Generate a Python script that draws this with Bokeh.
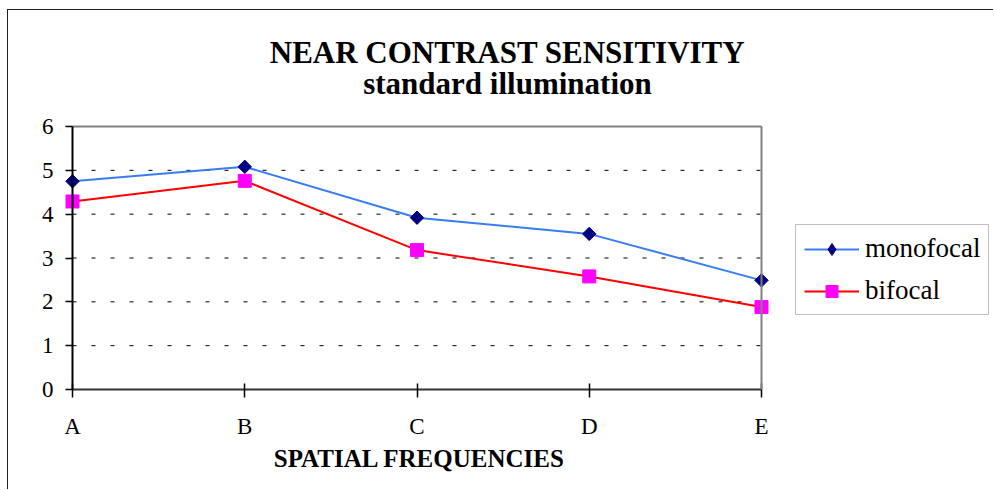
import math
from bokeh.plotting import figure
from bokeh.models import (Range1d, FixedTicker, Legend, LegendItem, Label,
                          LinearAxis)
from bokeh.embed import file_html
from bokeh.resources import INLINE

categories = ["A", "B", "C", "D", "E"]
monofocal = [4.75, 5.08, 3.92, 3.55, 2.49]
bifocal = [4.29, 4.76, 3.18, 2.58, 1.88]
y_ticks = [0, 1, 2, 3, 4, 5, 6]
grid_ticks = [1, 2, 3, 4, 5]
title_lines = ["NEAR CONTRAST SENSITIVITY", "standard illumination"]
x_title = "SPATIAL FREQUENCIES"
series_names = ["monofocal", "bifocal"]

FONT = "Liberation Serif"
xs = list(range(len(categories)))
x_last = len(categories) - 1
y_top = y_ticks[-1]

# geometry (canvas px). The frame covers everything right of the y labels so
# that titles, legend and axis title are not clipped.
W, H = 986, 480
left_px = 56
axis_y_px = 379                 # canvas y of the value-0 line
frame_w, frame_h = W - left_px, H
x_px = 689.0 / x_last           # px per category step
y_px = 263.0 / y_top            # px per y unit
x_pad = 8.0 / x_px
x_end = -x_pad + frame_w / x_px
y_start = -(H - axis_y_px) / y_px
y_end = y_start + frame_h / y_px

p = figure(width=W, height=H, output_backend="svg", toolbar_location=None,
           title=None,
           x_range=Range1d(-x_pad, x_end), y_range=Range1d(y_start, y_end),
           min_border_left=left_px, min_border_right=0, min_border_top=0,
           min_border_bottom=0,
           margin=(9, 0, 0, 7),
           styles={"border-left": "1px solid #222", "border-top": "1px solid #222"})

p.background_fill_color = "white"
p.border_fill_color = "white"
p.outline_line_color = None
p.xgrid.visible = False
p.ygrid.visible = False

# x axis, fixed on the value-0 line
xa = p.xaxis[0]
xa.fixed_location = 0
xa.bounds = (0, x_last)
xa.ticker = FixedTicker(ticks=xs)
xa.major_label_overrides = {i: c for i, c in enumerate(categories)}
xa.major_tick_in = 6
xa.major_tick_out = 8
xa.minor_tick_line_color = None
xa.axis_line_color = "#333333"
xa.axis_line_width = 2
xa.major_tick_line_color = "black"
xa.major_tick_line_width = 1.5
xa.major_label_text_font = FONT
xa.major_label_text_font_size = "23px"
xa.major_label_text_color = "black"
xa.major_label_standoff = 16

# y axis: labels from the main axis, line + ticks from an axis fixed at x=0
ya = p.yaxis[0]
ya.ticker = FixedTicker(ticks=y_ticks)
ya.axis_line_color = None
ya.major_tick_line_color = None
ya.minor_tick_line_color = None
ya.major_tick_in = 0
ya.major_tick_out = 0
ya.major_label_text_font = FONT
ya.major_label_text_font_size = "23px"
ya.major_label_text_color = "black"
ya.major_label_standoff = 11

y_line = LinearAxis(fixed_location=0, bounds=(0, y_top),
                    ticker=FixedTicker(ticks=y_ticks),
                    axis_line_color="black", axis_line_width=2,
                    major_tick_line_color="black", major_tick_line_width=1.5,
                    major_tick_in=0, major_tick_out=7,
                    minor_tick_line_color=None,
                    major_label_text_alpha=0, major_label_text_font_size="1px")
p.add_layout(y_line, "left")

# grey plot-area border on the top and right
right_border = LinearAxis(fixed_location=x_last, bounds=(0, y_top),
                          ticker=FixedTicker(ticks=[]),
                          axis_line_color="#808080", axis_line_width=2,
                          major_tick_line_color=None, minor_tick_line_color=None,
                          major_label_text_font_size="1px")
p.add_layout(right_border, "left")
top_border = LinearAxis(fixed_location=y_top, bounds=(0, x_last),
                        ticker=FixedTicker(ticks=[]),
                        axis_line_color="#808080", axis_line_width=2,
                        major_tick_line_color=None, minor_tick_line_color=None,
                        major_label_text_font_size="1px")
p.add_layout(top_border, "below")

# dashed horizontal grid lines across the plot area only
p.segment(x0=0, x1=x_last, y0=grid_ticks, y1=grid_ticks,
          line_color="black", line_width=1, line_dash="4 15")

# series
l1 = p.line(xs, monofocal, line_color="#3A7DF2", line_width=2)
l2 = p.line(xs, bifocal, line_color="#FF0000", line_width=2)
s1_key = p.scatter(xs, monofocal, marker="diamond", size=12,
                   fill_color="#000080", line_color="#000080")
s1 = p.scatter(xs, monofocal, marker="square", angle=math.pi / 4, size=9.5,
               fill_color="#000080", line_color="#000080")
s2 = p.scatter(xs, bifocal, marker="square", size=13,
               fill_color="#FF00FF", line_color="#FF00FF")

legend = Legend(items=[LegendItem(label=series_names[0], renderers=[l1, s1_key]),
                       LegendItem(label=series_names[1], renderers=[l2, s2])],
                location=(731, 175), glyph_width=55, glyph_height=30, spacing=11,
                padding=8, label_standoff=6, margin=0,
                label_text_font=FONT, label_text_font_size="27px",
                label_text_color="black",
                border_line_color="#808080", border_line_width=1.5,
                background_fill_color="white", background_fill_alpha=1)
p.add_layout(legend)

# two-line title
for text, ybase in ((title_lines[0], 438.5), (title_lines[1], 407.5)):
    p.add_layout(Label(x=443, y=ybase, x_units="screen", y_units="screen",
                       text=text, text_align="center", text_baseline="alphabetic",
                       text_font=FONT, text_font_style="bold",
                       text_font_size="31px", text_color="black"))

# x-axis title
p.add_layout(Label(x=355, y=32.5, x_units="screen", y_units="screen",
                   text=x_title, text_align="center", text_baseline="alphabetic",
                   text_font=FONT, text_font_style="bold",
                   text_font_size="25px", text_color="black"))

open("out.html", "w").write(file_html(p, INLINE))
